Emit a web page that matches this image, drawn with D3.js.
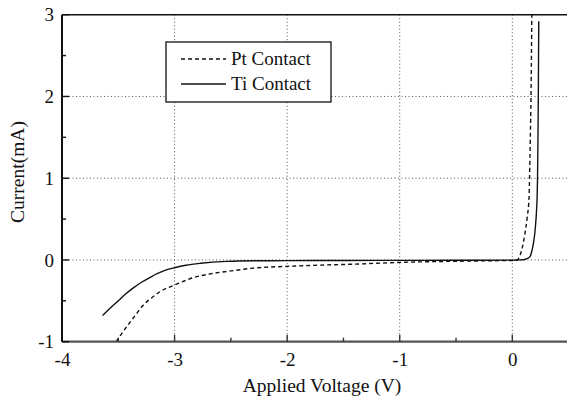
<!DOCTYPE html>
<html>
<head>
<meta charset="utf-8">
<script src="https://cdn.jsdelivr.net/npm/d3@7/dist/d3.min.js"></script>
<style>
  html, body { margin: 0; padding: 0; background: #fff; }
  svg { display: block; }
</style>
</head>
<body>
<svg id="chart" width="567" height="404"></svg>
<script>
// Axis ticks
const xTicks = [-4, -3, -2, -1, 0];
const yTicks = [-1, 0, 1, 2, 3];
const xMinorTicks = [-3.5, -2.5, -1.5, -0.5];
const yMinorTicks = [-0.5, 0.5, 1.5, 2.5];

// Series names
const seriesNames = ["Pt Contact", "Ti Contact"];

// Pt contact: applied voltage (V)
const ptVoltage = [-3.52, -3.425, -3.35, -3.277, -3.2, -3.129, -3.0, -2.9, -2.833, -2.685, -2.478, -2.3, -2.0, -1.7, -1.44, -1.0, -0.555, -0.2, 0.0, 0.04, 0.06, 0.083, 0.113, 0.133, 0.148, 0.153, 0.16, 0.166, 0.17, 0.173];
// Pt contact: current (mA)
const ptCurrent = [-1.0, -0.816, -0.68, -0.551, -0.46, -0.388, -0.306, -0.25, -0.216, -0.171, -0.131, -0.1, -0.078, -0.063, -0.053, -0.03, -0.017, -0.01, -0.006, -0.002, 0.03, 0.12, 0.33, 0.53, 0.75, 1.0, 1.5, 2.0, 2.5, 3.0];

// Ti contact: applied voltage (V)
const tiVoltage = [-3.64, -3.58, -3.5, -3.43, -3.36, -3.29, -3.22, -3.15, -3.08, -3.0, -2.9, -2.77, -2.54, -2.24, -2.0, -1.5, -1.0, -0.5, 0.0, 0.05, 0.1, 0.13, 0.157, 0.172, 0.187, 0.2, 0.21, 0.217, 0.221, 0.224, 0.228, 0.231, 0.233, 0.235];
// Ti contact: current (mA)
const tiCurrent = [-0.68, -0.6, -0.5, -0.41, -0.335, -0.27, -0.215, -0.165, -0.125, -0.095, -0.065, -0.041, -0.018, -0.01, -0.008, -0.006, -0.005, -0.004, -0.002, 0.0, 0.003, 0.015, 0.04, 0.1, 0.2, 0.33, 0.49, 0.65, 0.8, 1.0, 1.5, 2.0, 2.5, 2.92];

const FONT = "'Liberation Serif', 'Times New Roman', Times, 'DejaVu Serif', serif";

const svg = d3.select("#chart").style("font-family", FONT);
const W = 567, H = 404;

const x = d3.scaleLinear().domain([-4, 0.5]).range([62, 568.6]);
const y = d3.scaleLinear().domain([-1, 3]).range([341.7, 14.7]);

const pLeft = x(-4), pRight = W, pTop = y(3), pBottom = y(-1);

// Clip region for the plot
svg.append("defs").append("clipPath").attr("id", "plotClip")
  .append("rect").attr("x", pLeft).attr("y", pTop).attr("width", pRight - pLeft).attr("height", pBottom - pTop);

// Dotted grid
const grid = svg.append("g").attr("stroke", "#555").attr("stroke-width", 1).attr("stroke-dasharray", "1,2.5");
grid.selectAll(".gx").data(xTicks.slice(1)).join("line")
  .attr("x1", d => x(d)).attr("x2", d => x(d)).attr("y1", pTop).attr("y2", pBottom);
grid.selectAll(".gy").data(yTicks.slice(1, -1)).join("line")
  .attr("x1", pLeft).attr("x2", pRight).attr("y1", d => y(d)).attr("y2", d => y(d));

// Curves
const line = d3.line().x(d => x(d[0])).y(d => y(d[1])).curve(d3.curveMonotoneX);
const ptData = ptVoltage.map((v, i) => [v, ptCurrent[i]]);
const tiData = tiVoltage.map((v, i) => [v, tiCurrent[i]]);

const curves = svg.append("g").attr("clip-path", "url(#plotClip)");
curves.append("path").datum(ptData).attr("d", line)
  .attr("fill", "none").attr("stroke", "#111").attr("stroke-width", 1.4).attr("stroke-dasharray", "4,3");
curves.append("path").datum(tiData).attr("d", line)
  .attr("fill", "none").attr("stroke", "#111").attr("stroke-width", 1.4);

// Bottom axis
const xAxis = svg.append("g").attr("transform", `translate(0,${pBottom})`)
  .call(d3.axisBottom(x).tickValues(xTicks).tickSize(0).tickFormat(d => String(d)).tickPadding(11));
xAxis.attr("font-family", null).select(".domain").remove();
xAxis.selectAll("text").attr("font-size", 19).style("font-family", FONT).attr("fill", "#111");
svg.append("line").attr("x1", pLeft).attr("x2", pRight).attr("y1", pBottom).attr("y2", pBottom)
  .attr("stroke", "#555").attr("stroke-width", 2.2);
svg.append("g").selectAll("line").data(xTicks).join("line")
  .attr("x1", d => x(d)).attr("x2", d => x(d)).attr("y1", pBottom).attr("y2", pBottom - 7)
  .attr("stroke", "#333").attr("stroke-width", 1.4);
svg.append("g").selectAll("line").data(xMinorTicks).join("line")
  .attr("x1", d => x(d)).attr("x2", d => x(d)).attr("y1", pBottom).attr("y2", pBottom - 4)
  .attr("stroke", "#333").attr("stroke-width", 1.4);

// Left axis
const yAxis = svg.append("g").attr("transform", `translate(${pLeft},0)`)
  .call(d3.axisLeft(y).tickValues(yTicks).tickSize(0).tickFormat(d => String(d)).tickPadding(8));
yAxis.attr("font-family", null).select(".domain").remove();
yAxis.selectAll("text").attr("font-size", 19).style("font-family", FONT).attr("fill", "#111");
svg.append("g").selectAll("line").data(yTicks).join("line")
  .attr("x1", pLeft).attr("x2", pLeft + 7).attr("y1", d => y(d)).attr("y2", d => y(d))
  .attr("stroke", "#111").attr("stroke-width", 1.4);
svg.append("g").selectAll("line").data(yMinorTicks).join("line")
  .attr("x1", pLeft).attr("x2", pLeft + 4).attr("y1", d => y(d)).attr("y2", d => y(d))
  .attr("stroke", "#111").attr("stroke-width", 1.4);
svg.append("line").attr("x1", pLeft).attr("x2", pLeft).attr("y1", pTop).attr("y2", pBottom)
  .attr("stroke", "#111").attr("stroke-width", 2);

// Top border
svg.append("line").attr("x1", pLeft).attr("x2", pRight).attr("y1", pTop).attr("y2", pTop)
  .attr("stroke", "#111").attr("stroke-width", 1.6);

// Axis titles
svg.append("text").attr("x", 322).attr("y", 392).attr("text-anchor", "middle")
  .style("font-family", FONT).attr("fill", "#111")
  .attr("font-size", 19.5).text("Applied Voltage (V)");
svg.append("text").attr("transform", `translate(24,172) rotate(-90)`).attr("text-anchor", "middle")
  .style("font-family", FONT).attr("fill", "#111")
  .attr("font-size", 19.5).text("Current(mA)");

// Legend
const lg = svg.append("g");
lg.append("rect").attr("x", 166).attr("y", 42).attr("width", 165).attr("height", 60)
  .attr("fill", "#fff").attr("stroke", "#111").attr("stroke-width", 1.3);
const rows = [
  { name: seriesNames[0], dash: "4,3", cy: 59 },
  { name: seriesNames[1], dash: null, cy: 84 }
];
rows.forEach(r => {
  lg.append("line").attr("x1", 181).attr("x2", 226).attr("y1", r.cy).attr("y2", r.cy)
    .attr("stroke", "#111").attr("stroke-width", 1.4).attr("stroke-dasharray", r.dash);
  lg.append("text").attr("x", 231).attr("y", r.cy + 6).attr("font-size", 19)
    .style("font-family", FONT).attr("fill", "#111").text(r.name);
});
</script>
</body>
</html>
